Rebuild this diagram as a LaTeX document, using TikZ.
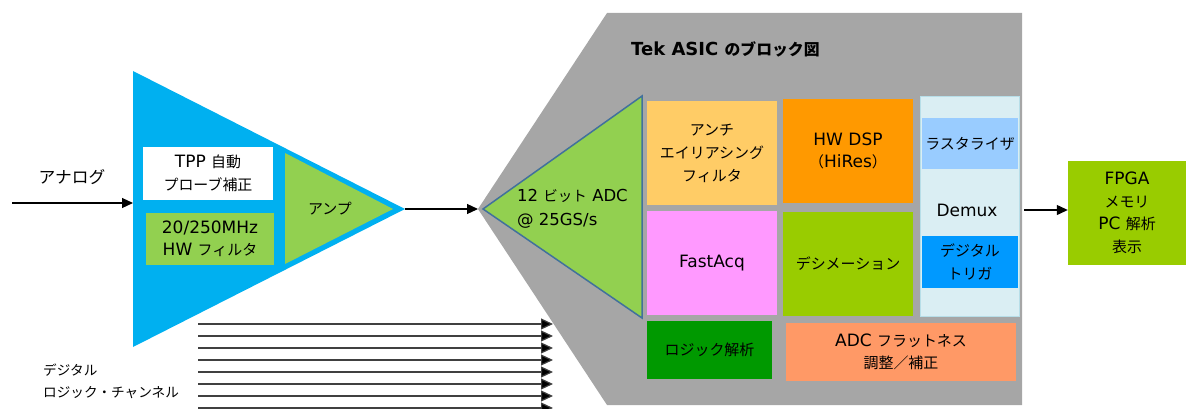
\documentclass[tikz,border=0pt]{standalone}
\usepackage{fontspec}
\setmainfont{DejaVu Sans}
\newfontfamily\jp{Noto Sans CJK JP}[Scale=0.88]
\usetikzlibrary{shapes, calc, arrows.meta, positioning}
\definecolor{frontBlue}{HTML}{00B0F0}
\definecolor{ampGreen}{HTML}{92D050}
\definecolor{asicGray}{HTML}{A6A6A6}
\definecolor{adcEdge}{HTML}{41719C}
\definecolor{aaOrange}{HTML}{FFCC66}
\definecolor{dspOrange}{HTML}{FF9900}
\definecolor{acqPink}{HTML}{FF99FF}
\definecolor{decGreen}{HTML}{99CC00}
\definecolor{colBlue}{HTML}{DAEEF3}
\definecolor{colEdge}{HTML}{B7DEE8}
\definecolor{rastBlue}{HTML}{99CCFF}
\definecolor{trigBlue}{HTML}{0099FF}
\definecolor{logicGreen}{HTML}{009900}
\definecolor{flatOrange}{HTML}{FF9966}
\tikzstyle{block}=[inner sep=0pt, align=center, font=\fontsize{17}{22.5}\selectfont]
\tikzstyle{jpBlock}=[block, font=\jp\fontsize{17}{23}\selectfont]
\tikzstyle{plainText}=[inner sep=0pt, align=left, font=\jp\fontsize{15.5}{22}\selectfont]
\tikzstyle{signal}=[line width=1.2pt, -{Triangle[length=11pt,width=10pt]}]
\tikzstyle{digital}=[line width=1.2pt, draw=black!75, -{Triangle[length=12pt,width=11pt,fill=black]}]

\begin{document}
\begin{tikzpicture}[x=1pt, y=-1pt]
    \useasboundingbox (0, 0) rectangle (1186, 409);

    % front end
    \coordinate (frontTop) at (133, 71);
    \coordinate (frontOut) at (405, 209);
    \coordinate (frontBot) at (133, 347);
    \fill[frontBlue] (frontTop) -- (frontOut) -- (frontBot) -- cycle;
    \fill[ampGreen] (285, 153) -- (393, 209) -- (285, 264) -- cycle;

    \node (tpp)[block, fill=white, minimum width=130pt, minimum height=53pt] at (208, 173.5) {TPP {\jp 自動}\\{\jp プローブ補正}};
    \node (hwFilter)[block, fill=ampGreen, minimum width=128pt, minimum height=52pt] at (210, 239) {20/250MHz\\HW {\jp フィルタ}};
    \node (amp)[jpBlock] at (330, 209) {アンプ};

    \coordinate (analogStart) at (12, 203);
    \coordinate (analogEnd) at (133, 203);
    \node (analog)[plainText, font=\jp\fontsize{19}{20}\selectfont] at (72, 177) {アナログ};
    \draw[signal] (analogStart) -- (analogEnd);

    % ASIC
    \fill[asicGray] (607, 13) -- (1022, 13) -- (1022, 405) -- (607, 405) -- (478, 209) -- cycle;
    \node (title)[anchor=west, inner sep=0pt, font=\bfseries\fontsize{18}{20}\selectfont] at (631, 49) {Tek ASIC {\jp\bfseries のブロック図}};

    \coordinate (adcTip) at (483, 209);
    \draw[fill=ampGreen, draw=adcEdge, line width=1.5pt] (adcTip) -- (642, 96) -- (642, 318) -- cycle;
    \node (adc)[block, align=left, anchor=west, font=\fontsize{16.5}{24}\selectfont] at (517, 209) {12 {\jp ビット} ADC\\@ 25GS/s};
    \draw[signal] (frontOut) -- ([xshift=-5pt]adcTip);

    \node (antiAlias)[jpBlock, fill=aaOrange, minimum width=130pt, minimum height=104pt] at (712, 153) {アンチ\\エイリアシング\\フィルタ};
    \node (fastAcq)[block, fill=acqPink, minimum width=130pt, minimum height=104pt] at (712, 263) {FastAcq};
    \node (hwDsp)[block, fill=dspOrange, minimum width=130pt, minimum height=104pt] at (848, 151) {HW DSP\\{\jp （}HiRes{\jp ）}};
    \node (decim)[jpBlock, fill=decGreen, minimum width=130pt, minimum height=104pt] at (848, 263.5) {デシメーション};

    \node (demuxCol)[draw=colEdge, fill=colBlue, minimum width=99pt, minimum height=220pt] at (969.5, 206) {};
    \node (raster)[jpBlock, fill=rastBlue, minimum width=96pt, minimum height=51pt] at (970, 143.5) {ラスタライザ};
    \node (demux)[block] at (967, 210) {Demux};
    \node (trigger)[jpBlock, fill=trigBlue, minimum width=96pt, minimum height=52pt] at (970, 262) {デジタル\\トリガ};

    \node (logic)[jpBlock, fill=logicGreen, minimum width=125pt, minimum height=58pt] at (709.5, 350) {ロジック解析};
    \node (flat)[block, fill=flatOrange, minimum width=230pt, minimum height=58pt] at (901, 352) {ADC {\jp フラットネス}\\{\jp 調整／補正}};

    % back end
    \node (fpga)[block, fill=decGreen, minimum width=118pt, minimum height=104pt] at (1127, 213) {FPGA\\{\jp メモリ}\\PC {\jp 解析}\\{\jp 表示}};
    \draw[signal] ([xshift=5pt]demuxCol.east |- demux) -- (fpga.west |- demux);

    % digital channels
    \node (digLabel)[plainText, anchor=west] at (43, 381) {デジタル\\ロジック・チャンネル};
    \coordinate (d1s) at (198, 324); \coordinate (d1e) at (553, 324);
    \coordinate (d2s) at (198, 336); \coordinate (d2e) at (553, 336);
    \coordinate (d3s) at (198, 348); \coordinate (d3e) at (553, 348);
    \coordinate (d4s) at (198, 360); \coordinate (d4e) at (553, 360);
    \coordinate (d5s) at (198, 372); \coordinate (d5e) at (553, 372);
    \coordinate (d6s) at (198, 384); \coordinate (d6e) at (553, 384);
    \coordinate (d7s) at (198, 396); \coordinate (d7e) at (553, 396);
    \coordinate (d8s) at (198, 408); \coordinate (d8e) at (553, 408);
    \draw[digital] (d1s) -- (d1e);
    \draw[digital] (d2s) -- (d2e);
    \draw[digital] (d3s) -- (d3e);
    \draw[digital] (d4s) -- (d4e);
    \draw[digital] (d5s) -- (d5e);
    \draw[digital] (d6s) -- (d6e);
    \draw[digital] (d7s) -- (d7e);
    \draw[digital] (d8s) -- (d8e);

\end{tikzpicture}
\end{document}
